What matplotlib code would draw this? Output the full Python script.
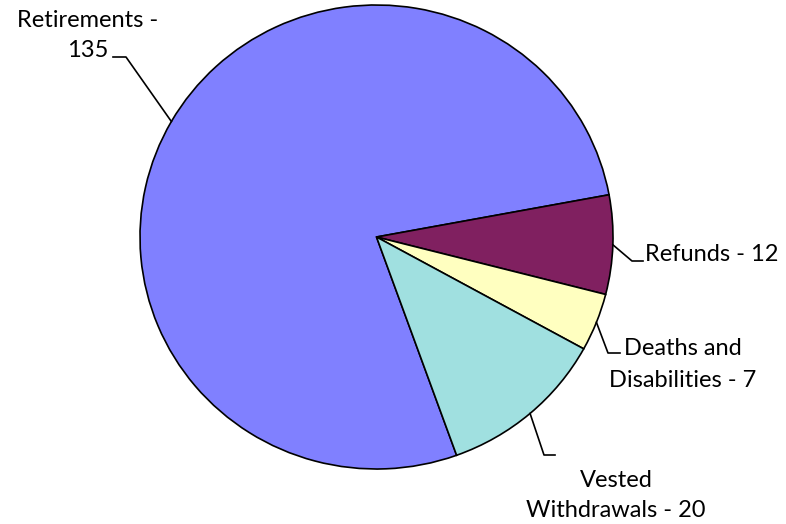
import numpy as np
import matplotlib
matplotlib.use("Agg")
import matplotlib.pyplot as plt
from matplotlib.lines import Line2D

names = ["Retirements", "Refunds", "Deaths and Disabilities", "Vested Withdrawals"]
values = [135, 12, 7, 20]
colors = ["#8080FF", "#802060", "#FFFFC0", "#A0E0E0"]

# words on the first line of each wrapped label (None = one line)
first_line_words = [2, None, 2, 1]

W, H = 786, 524
fig = plt.figure(figsize=(W / 100, H / 100), dpi=100)

# pie axes placed in pixels (left, top, right, bottom)
pl, pt, pr, pb = 140, 5, 613, 469
ax = fig.add_axes([pl / W, 1 - pb / H, (pr - pl) / W, (pb - pt) / H])

wedges, _ = ax.pie(values, colors=colors, startangle=289.8, counterclock=False,
                   radius=1, wedgeprops=dict(edgecolor="black", linewidth=1.2))
ax.set_aspect("auto")
ax.set_xlim(-1, 1)
ax.set_ylim(-1, 1)
ax.axis("off")

def px(x, y):
    # pixel (top-left origin) -> figure fraction
    return x / W, 1 - y / H

# label layout: line anchors (x, baseline y, ha) and leader elbow points
label_lines_pos = [
    [(88, 27), (88, 57)],
    [(645, 261)],
    [(683, 355), (683, 387)],
    [(616, 487), (616, 517)],
]
label_ha = ["center", "left", "center", "center"]
elbows = [
    [(113, 57), (126, 57)],
    [(643, 261), (632, 261)],
    [(620, 353), (608, 353)],
    [(555, 455), (544, 455)],
]

fig.canvas.draw()
for i, w in enumerate(wedges):
    text = f"{names[i]} - {values[i]}"
    words = text.split(" ")
    n = first_line_words[i]
    lines = [text] if n is None else [" ".join(words[:n]), " ".join(words[n:])]
    for line, (x, y) in zip(lines, label_lines_pos[i]):
        fx, fy = px(x, y)
        fig.text(fx, fy, line, ha=label_ha[i], va="baseline",
                 fontsize=17, family="Lato", color="black")

    mid = np.deg2rad((w.theta1 + w.theta2) / 2)
    ex, ey = ax.transData.transform((np.cos(mid), np.sin(mid)))
    ex, ey = ex / W, ey / H
    pts = [px(*p) for p in elbows[i]] + [(ex, ey)]
    fig.add_artist(Line2D([p[0] for p in pts], [p[1] for p in pts],
                          color="black", linewidth=1.2, transform=fig.transFigure))

fig.savefig("out.png", dpi=100)
